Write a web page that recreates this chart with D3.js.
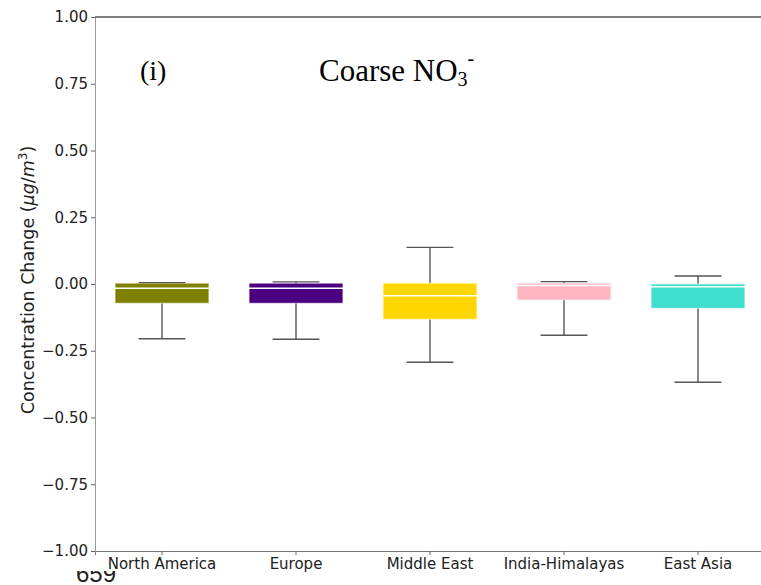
<!DOCTYPE html>
<html>
<head>
<meta charset="utf-8">
<script src="https://cdn.jsdelivr.net/npm/d3@7"></script>
<style>
  html, body { margin: 0; padding: 0; background: #fff; }
  svg { display: block; }
</style>
</head>
<body>
<svg id="chart" width="761" height="585"></svg>
<script>
// Regional change in coarse nitrate concentration (box statistics per region)
const regions = ["North America", "Europe", "Middle East", "India-Himalayas", "East Asia"];
const whiskerLow  = [-0.205, -0.207, -0.293, -0.192, -0.368];
const quartile1   = [-0.072, -0.072, -0.132, -0.060, -0.091];
const medians     = [-0.016, -0.016, -0.044, -0.006, -0.010];
const quartile3   = [ 0.003,  0.003,  0.003,  0.003,  0.000];
const whiskerHigh = [ 0.005,  0.008,  0.137,  0.009,  0.030];
const boxColors   = ["#808000", "#4B0082", "#FFD700", "#FFB6C1", "#40E0D0"];
const yTicks = [-1.00, -0.75, -0.50, -0.25, 0.00, 0.25, 0.50, 0.75, 1.00];

const svg = d3.select("#chart");
const plot = { left: 95, right: 765, top: 17, bottom: 551 };

const x = d3.scaleBand().domain(regions).range([plot.left, plot.right]).padding(0);
const y = d3.scaleLinear().domain([-1, 1]).range([plot.bottom, plot.top]);

const boxW = x.bandwidth() * 0.7;
const capW = boxW / 2;

// page-number fragment peeking out from under the figure
svg.append("clipPath").attr("id", "pageClip")
  .append("rect").attr("x", 0).attr("y", 571).attr("width", 761).attr("height", 20);
svg.append("text")
  .attr("x", 76).attr("y", 582)
  .attr("clip-path", "url(#pageClip)")
  .attr("font-family", "Liberation Sans, Arial, sans-serif")
  .attr("font-size", 24)
  .attr("fill", "#222")
  .text("659");

const stats = regions.map((r, i) => ({
  region: r, lo: whiskerLow[i], q1: quartile1[i], med: medians[i],
  q3: quartile3[i], hi: whiskerHigh[i], color: boxColors[i]
}));

const g = svg.append("g");

// whisker stems
g.selectAll("line.stem").data(stats).join("line")
  .attr("x1", d => x(d.region) + x.bandwidth() / 2)
  .attr("x2", d => x(d.region) + x.bandwidth() / 2)
  .attr("y1", d => y(d.lo)).attr("y2", d => y(d.hi))
  .attr("stroke", "#555").attr("stroke-width", 1.4);

// boxes
g.selectAll("rect.box").data(stats).join("rect")
  .attr("x", d => x(d.region) + (x.bandwidth() - boxW) / 2)
  .attr("width", boxW)
  .attr("y", d => y(d.q3))
  .attr("height", d => y(d.q1) - y(d.q3))
  .attr("fill", d => d.color)
  .attr("stroke", "rgba(255,255,255,0.55)")
  .attr("stroke-width", 1);

// medians
g.selectAll("line.median").data(stats).join("line")
  .attr("x1", d => x(d.region) + (x.bandwidth() - boxW) / 2)
  .attr("x2", d => x(d.region) + (x.bandwidth() + boxW) / 2)
  .attr("y1", d => y(d.med)).attr("y2", d => y(d.med))
  .attr("stroke", "#fff").attr("stroke-width", 1.5);

// caps
["lo", "hi"].forEach(k => {
  g.selectAll("line.cap-" + k).data(stats).join("line")
    .attr("x1", d => x(d.region) + (x.bandwidth() - capW) / 2)
    .attr("x2", d => x(d.region) + (x.bandwidth() + capW) / 2)
    .attr("y1", d => y(d[k])).attr("y2", d => y(d[k]))
    .attr("stroke", "#555").attr("stroke-width", 1.4);
});

// axes
const yAxis = d3.axisLeft(y).tickValues(yTicks).tickFormat(d3.format(".2f"))
  .tickSize(4).tickPadding(3);
const yg = svg.append("g").attr("transform", `translate(${plot.left},0)`).call(yAxis);
yg.select(".domain").attr("stroke", "#999");
yg.selectAll(".tick line").attr("stroke", "#666");
yg.selectAll("text").attr("font-family", "DejaVu Sans, sans-serif")
  .attr("font-size", 15).attr("fill", "#222");

const xAxis = d3.axisBottom(x).tickSize(4).tickPadding(3);
const xg = svg.append("g").attr("transform", `translate(0,${plot.bottom})`).call(xAxis);
xg.select(".domain").attr("stroke", "#777");
xg.selectAll(".tick line").attr("stroke", "#666");
xg.selectAll("text").attr("font-family", "DejaVu Sans, sans-serif")
  .attr("font-size", 15).attr("fill", "#222");

// top spine
svg.append("line")
  .attr("x1", plot.left).attr("x2", plot.right)
  .attr("y1", plot.top).attr("y2", plot.top)
  .attr("stroke", "#555").attr("stroke-width", 1.3);

// y-axis title
const yl = svg.append("text")
  .attr("transform", "translate(34,280) rotate(-90)")
  .attr("text-anchor", "middle")
  .attr("font-family", "DejaVu Sans, sans-serif")
  .attr("font-size", 17.5)
  .attr("fill", "#222");
yl.append("tspan").text("Concentration Change (");
yl.append("tspan").attr("font-style", "italic").text("μg");
yl.append("tspan").text("/");
yl.append("tspan").attr("font-style", "italic").text("m");
yl.append("tspan").attr("font-size", 12).attr("dy", -7).text("3");
yl.append("tspan").attr("dy", 7).text(")");

// panel titles
svg.append("text")
  .attr("x", 140).attr("y", 80)
  .attr("font-family", "Liberation Serif, Times New Roman, serif")
  .attr("font-size", 28).attr("fill", "#000")
  .text("(i)");

const t = svg.append("text")
  .attr("x", 319).attr("y", 81)
  .attr("font-family", "Liberation Serif, Times New Roman, serif")
  .attr("font-size", 31).attr("fill", "#000");
t.append("tspan").text("Coarse NO");
t.append("tspan").attr("font-size", 20).attr("dy", 5).text("3");
t.append("tspan").attr("font-size", 20).attr("dy", -21).text("-");
</script>
</body>
</html>
